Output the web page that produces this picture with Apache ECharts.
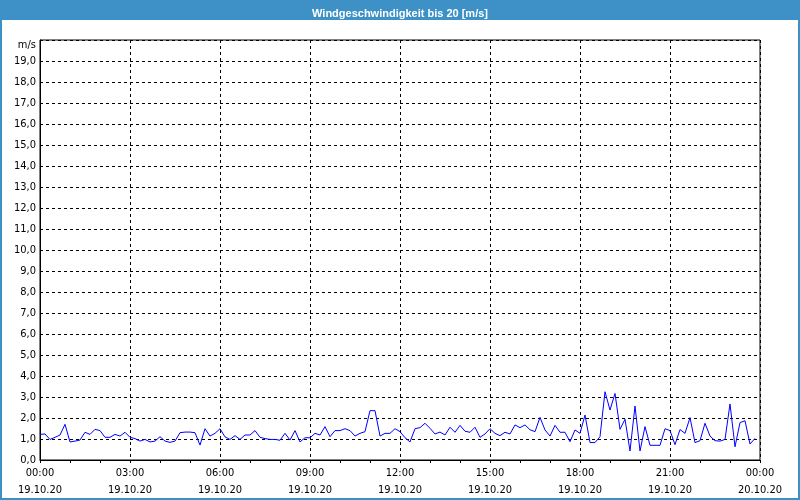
<!DOCTYPE html>
<html>
<head>
<meta charset="utf-8">
<script src="https://cdn.jsdelivr.net/npm/echarts@6/dist/echarts.min.js"></script>
<style>
html,body{margin:0;padding:0;background:#fff;}
#c{width:800px;height:500px;}
</style>
</head>
<body>
<div id="c"></div>
<script>
// Wind speed in m/s, one value every 10 minutes from 19.10.20 00:00 to 23:50
const windSpeed = [
1.22,1.24,0.98,1.08,1.19,1.70,0.86,0.90,0.95,1.32,1.22,1.46,1.40,1.08,1.08,1.22,1.14,1.32,
1.08,1.02,0.90,0.98,0.86,0.90,1.11,0.90,0.84,0.90,1.30,1.33,1.33,1.30,0.71,1.49,1.14,1.27,
1.49,1.10,0.98,1.16,0.98,1.19,1.19,1.40,1.08,1.02,0.98,0.98,0.94,1.27,0.95,1.40,0.86,1.06,
1.06,1.27,1.19,1.59,1.11,1.40,1.40,1.49,1.40,1.14,1.27,1.35,2.35,2.35,1.14,1.27,1.27,1.49,
1.35,1.06,0.86,1.49,1.54,1.75,1.51,1.24,1.33,1.19,1.56,1.32,1.65,1.37,1.32,1.56,1.08,1.24,
1.49,1.27,1.16,1.32,1.24,1.67,1.54,1.67,1.44,1.35,2.03,1.43,1.14,1.65,1.32,1.32,0.87,1.43,
1.27,2.14,0.83,0.83,1.11,3.25,2.38,3.17,1.46,1.94,0.43,2.57,0.43,1.59,0.70,0.70,0.70,1.49,
1.40,0.73,1.45,1.27,2.02,0.83,0.92,1.75,1.14,0.92,0.90,0.98,2.67,0.63,1.78,1.87,0.76,1.03
];
const stepMinutes = 10;
const startDate = '19.10.20';
const endDate = '20.10.20';
const titleText = 'Windgeschwindigkeit bis 20 [m/s]';
const yUnit = 'm/s';

const seriesData = windSpeed.map((v, i) => [i * stepMinutes, v]);
const font = "Tahoma, 'DejaVu Sans Condensed', 'Liberation Sans', sans-serif";

const chart = echarts.init(document.getElementById('c'), null, {renderer: 'canvas'});
chart.setOption({
  animation: false,
  backgroundColor: '#fff',
  title: {
    text: titleText,
    left: 'center',
    top: 3,
    textStyle: {color: '#fff', fontSize: 11, fontWeight: 'bold', fontFamily: "'Liberation Sans', sans-serif"}
  },
  graphic: [
    {type: 'rect', shape: {x: 0, y: 0, width: 800, height: 20}, style: {fill: '#3d91c7'}, z: -10},
    {type: 'rect', shape: {x: 1, y: 1, width: 798, height: 498}, style: {fill: null, stroke: '#3d91c7', lineWidth: 2}, z: -10}
  ],
  grid: {left: 40, right: 40, top: 40, bottom: 40, show: true, borderColor: '#000', borderWidth: 1, backgroundColor: '#fff'},
  xAxis: {
    type: 'value',
    min: 0, max: 1440, interval: 180,
    axisLine: {show: true, lineStyle: {color: '#000', width: 1}},
    axisTick: {show: true, length: 3, lineStyle: {color: '#000'}},
    minorTick: {show: true, splitNumber: 3, length: 3, lineStyle: {color: '#000'}},
    splitLine: {show: true, lineStyle: {color: '#000', type: [3, 3], width: 1}},
    axisLabel: {
      color: '#000', fontSize: 11, fontFamily: font, margin: 5, lineHeight: 17,
      showMinLabel: true, showMaxLabel: true,
      formatter: function (m) {
        const h = Math.floor(m / 60) % 24;
        const d = m >= 1440 ? endDate : startDate;
        return (h < 10 ? '0' : '') + h + ':00\n' + d;
      }
    }
  },
  yAxis: {
    type: 'value',
    min: 0, max: 20, interval: 1,
    name: yUnit,
    nameLocation: 'end',
    nameGap: -5,
    nameTextStyle: {color: '#000', fontSize: 11, fontFamily: font, align: 'right', verticalAlign: 'middle', padding: [0, 4, 0, 0]},
    axisLine: {show: true, lineStyle: {color: '#000', width: 1}},
    axisTick: {show: false},
    splitLine: {show: true, lineStyle: {color: '#000', type: [3, 3], width: 1}},
    axisLabel: {
      color: '#000', fontSize: 11, fontFamily: font, margin: 4,
      formatter: function (v) { return v >= 20 ? '' : v.toFixed(1).replace('.', ','); }
    }
  },
  series: [{
    type: 'line',
    data: seriesData,
    showSymbol: false,
    symbol: 'none',
    lineStyle: {color: '#0000ff', width: 1},
    itemStyle: {color: '#0000ff'}
  }]
});
</script>
</body>
</html>
